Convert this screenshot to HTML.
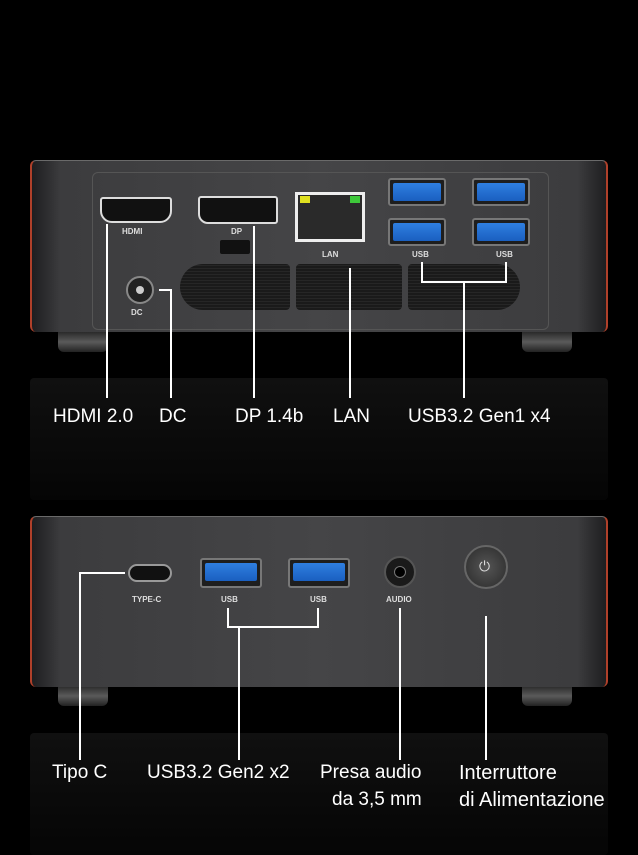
<!DOCTYPE html>
<html><head><meta charset="utf-8"><style>
*{margin:0;padding:0;box-sizing:border-box}
body{width:638px;height:855px;background:#000;position:relative;overflow:hidden;font-family:"Liberation Sans",sans-serif}
.a{position:absolute}
.dev{position:absolute;left:30px;width:578px;border-radius:6px;background:linear-gradient(90deg,#1e1e20 0%,#3c3c3e 5%,#454547 50%,#3c3c3e 95%,#1e1e20 100%);border-left:2px solid #b0402a;border-right:2px solid #b0402a;border-top:1px solid #6a6a6a}
.refl{position:absolute;left:30px;width:578px;background:linear-gradient(#101010,#050505);border-radius:4px}
.foot{position:absolute;width:50px;height:20px;background:linear-gradient(#2a2a2a,#5a5a5a 50%,#222);border-radius:0 0 6px 6px}
.usb{position:absolute;width:58px;height:28px;background:#1e1e1e;border:2px solid #777;border-radius:3px}
.usb::after{content:"";position:absolute;left:3px;right:3px;top:3px;height:18px;background:linear-gradient(#2f7fe0,#1a5fc0);border-radius:2px}
.lb{position:absolute;color:#ddd;font-size:8px;font-weight:bold}
.vent{position:absolute;top:264px;height:46px;background:repeating-linear-gradient(0deg,#1a1a1a 0 2px,#262626 2px 3px);border-radius:4px}
.L{position:absolute;background:#fff}
.t{position:absolute;color:#fff;font-size:19px;line-height:22px;white-space:nowrap}
</style></head><body>
<div class="refl" style="top:378px;height:122px"></div>
<div class="foot" style="left:58px;top:332px"></div>
<div class="foot" style="left:522px;top:332px"></div>
<div class="dev" style="top:160px;height:172px"></div>
<div class="a" style="left:92px;top:172px;width:457px;height:158px;border:1px solid #555;border-radius:6px"></div>
<div class="a" style="left:100px;top:197px;width:72px;height:26px;border:2px solid #ddd;border-radius:3px 3px 12px 12px;background:#111"></div>
<div class="lb" style="left:122px;top:227px">HDMI</div>
<div class="a" style="left:198px;top:196px;width:80px;height:28px;border:2px solid #ddd;border-radius:3px 3px 3px 10px;background:#111"></div>
<div class="lb" style="left:231px;top:227px">DP</div>
<div class="a" style="left:220px;top:240px;width:30px;height:14px;background:#111;border-radius:2px"></div>
<div class="a" style="left:295px;top:192px;width:70px;height:50px;border:3px solid #eee;background:#2a2a2a"></div>
<div class="a" style="left:300px;top:196px;width:10px;height:7px;background:#dfe020"></div>
<div class="a" style="left:350px;top:196px;width:10px;height:7px;background:#3ec83a"></div>
<div class="lb" style="left:322px;top:250px">LAN</div>
<div class="usb" style="left:388px;top:178px"></div>
<div class="usb" style="left:472px;top:178px"></div>
<div class="usb" style="left:388px;top:218px"></div>
<div class="usb" style="left:472px;top:218px"></div>
<div class="lb" style="left:412px;top:250px">USB</div>
<div class="lb" style="left:496px;top:250px">USB</div>
<div class="vent" style="left:180px;width:110px;border-radius:23px 4px 4px 23px"></div>
<div class="vent" style="left:296px;width:106px"></div>
<div class="vent" style="left:408px;width:112px;border-radius:4px 23px 23px 4px"></div>
<div class="a" style="left:126px;top:276px;width:28px;height:28px;border-radius:50%;background:#222;border:2px solid #888"></div>
<div class="a" style="left:136px;top:286px;width:8px;height:8px;border-radius:50%;background:#ccc"></div>
<div class="lb" style="left:131px;top:308px">DC</div>
<div class="L" style="left:106px;top:224px;width:2px;height:174px"></div>
<div class="L" style="left:159px;top:289px;width:12px;height:2px"></div>
<div class="L" style="left:170px;top:289px;width:2px;height:109px"></div>
<div class="L" style="left:253px;top:226px;width:2px;height:172px"></div>
<div class="L" style="left:349px;top:268px;width:2px;height:130px"></div>
<div class="L" style="left:421px;top:262px;width:2px;height:21px"></div>
<div class="L" style="left:505px;top:262px;width:2px;height:21px"></div>
<div class="L" style="left:421px;top:281px;width:86px;height:2px"></div>
<div class="L" style="left:463px;top:281px;width:2px;height:117px"></div>
<div class="t" style="left:53px;top:406px">HDMI 2.0</div>
<div class="t" style="left:159px;top:406px">DC</div>
<div class="t" style="left:235px;top:406px">DP 1.4b</div>
<div class="t" style="left:333px;top:406px">LAN</div>
<div class="t" style="left:408px;top:406px">USB3.2 Gen1 x4</div>
<div class="refl" style="top:733px;height:122px"></div>
<div class="foot" style="left:58px;top:686px"></div>
<div class="foot" style="left:522px;top:686px"></div>
<div class="dev" style="top:516px;height:171px"></div>
<div class="a" style="left:128px;top:564px;width:44px;height:18px;border:2px solid #999;border-radius:9px;background:#111"></div>
<div class="lb" style="left:132px;top:595px">TYPE-C</div>
<div class="usb" style="left:200px;top:558px;width:62px;height:30px"></div>
<div class="usb" style="left:288px;top:558px;width:62px;height:30px"></div>
<div class="lb" style="left:221px;top:595px">USB</div>
<div class="lb" style="left:310px;top:595px">USB</div>
<div class="a" style="left:384px;top:556px;width:32px;height:32px;border-radius:50%;background:#1a1a1a;border:2px solid #555"></div>
<div class="a" style="left:394px;top:566px;width:12px;height:12px;border-radius:50%;background:#000;border:1px solid #777"></div>
<div class="lb" style="left:386px;top:595px">AUDIO</div>
<div class="a" style="left:464px;top:545px;width:44px;height:44px;border-radius:50%;background:radial-gradient(#555,#2a2a2a);border:2px solid #666"></div>
<div class="a" style="left:479px;top:558px;color:#ddd;font-size:14px">⏻</div>
<div class="L" style="left:79px;top:572px;width:46px;height:2px"></div>
<div class="L" style="left:79px;top:572px;width:2px;height:188px"></div>
<div class="L" style="left:227px;top:608px;width:2px;height:20px"></div>
<div class="L" style="left:317px;top:608px;width:2px;height:20px"></div>
<div class="L" style="left:227px;top:626px;width:92px;height:2px"></div>
<div class="L" style="left:238px;top:626px;width:2px;height:134px"></div>
<div class="L" style="left:399px;top:608px;width:2px;height:152px"></div>
<div class="L" style="left:485px;top:616px;width:2px;height:144px"></div>
<div class="t" style="left:52px;top:762px">Tipo C</div>
<div class="t" style="left:147px;top:762px">USB3.2 Gen2 x2</div>
<div class="t" style="left:320px;top:762px">Presa audio</div>
<div class="t" style="left:332px;top:789px">da 3,5 mm</div>
<div class="t" style="left:459px;top:762px;font-size:20px">Interruttore</div>
<div class="t" style="left:459px;top:789px;font-size:20px">di Alimentazione</div>
</body></html>
